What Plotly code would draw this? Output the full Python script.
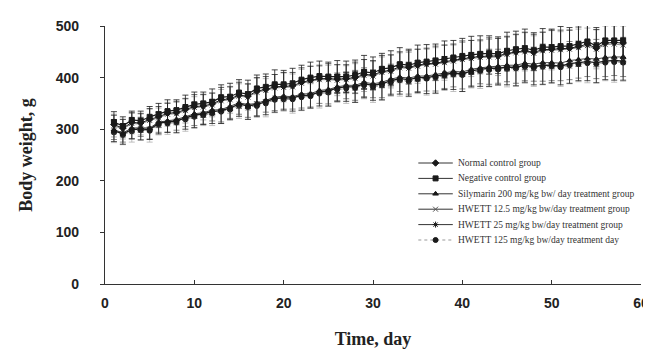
import plotly.graph_objects as go

days = list(range(1, 59))

normal_control = [309,302,313,312,319,324,331,332,338,344,345,349,357,359,366,364,374,377,382,383,384,391,395,398,398,397,398,400,406,405,412,414,421,420,424,427,428,431,434,437,439,441,442,442,447,450,452,449,454,455,456,457,460,465,457,467,468,467]
negative_control = [314,306,318,316,324,329,335,337,343,348,350,353,362,363,371,368,379,382,387,387,389,396,400,403,402,402,402,405,411,409,417,419,426,424,429,431,433,436,439,442,444,446,447,446,452,455,457,453,459,459,461,461,465,470,461,472,472,472]
silymarin = [299,293,302,303,302,314,316,319,324,330,332,337,338,344,351,348,350,356,362,364,363,368,369,375,377,382,385,385,391,388,391,397,401,399,403,403,406,410,412,411,416,419,421,422,424,424,428,426,429,429,428,433,435,437,436,439,440,440]
hwett_12_5 = [307,300,311,310,317,322,329,330,336,342,343,347,355,357,364,362,372,375,380,381,382,389,393,396,396,395,396,398,404,403,410,412,419,418,422,425,426,429,432,435,437,439,440,440,445,448,450,447,452,453,454,455,458,462,455,464,465,463]
hwett_25 = [297,291,299,301,299,312,314,316,322,327,330,334,336,341,349,345,348,353,360,361,361,365,366,372,374,380,382,382,388,385,388,394,398,396,400,400,403,407,409,407,413,416,418,418,420,420,424,421,424,424,422,427,429,431,429,432,433,432]
hwett_125 = [294,289,296,298,297,309,311,313,319,324,327,331,334,338,346,343,345,350,357,358,358,362,364,369,371,377,379,380,385,382,385,391,395,393,397,398,400,404,406,405,410,413,415,416,417,418,421,419,421,422,420,424,426,428,427,429,430,429]

sd_normal = [18,17,19,18,21,20,19,22,21,23,22,21,24,23,25,24,26,25,24,27,26,28,27,26,29,28,27,30,29,28,31,30,29,32,31,30,33,32,31,34,33,32,35,34,33,34,36,35,34,37,36,35,38,37,36,35,37,36]
sd_negative = [20,18,17,19,20,21,22,20,23,24,22,25,24,26,25,27,26,25,28,27,29,28,30,29,28,31,30,29,32,31,30,33,32,31,34,33,32,35,33,34,36,35,34,33,36,35,37,34,36,35,38,36,37,38,36,37,36,35]
sd_silymarin = [19,18,20,17,21,20,22,21,19,23,22,21,24,23,22,25,24,23,26,25,24,27,26,25,28,27,26,29,28,27,30,29,28,31,30,29,32,31,30,33,32,31,34,33,32,35,34,33,36,35,34,37,36,35,38,37,36,38]
sd_h12_5 = [22,19,20,21,22,19,23,22,24,21,25,23,22,26,24,25,27,23,26,28,25,27,29,26,28,30,27,29,31,28,30,32,29,31,33,30,32,34,31,33,35,32,34,36,33,35,37,34,36,38,35,37,36,34,38,36,35,37]
sd_h25 = [21,20,18,22,19,21,20,23,22,24,21,23,25,22,24,26,23,25,27,24,26,28,25,27,29,26,28,30,27,29,31,28,30,32,29,31,33,30,32,34,31,33,35,32,34,36,33,35,37,34,36,38,35,37,39,36,38,37]
sd_h125 = [20,19,21,18,22,20,21,19,23,22,20,24,23,21,25,24,22,26,25,23,27,26,24,28,27,25,29,28,26,30,29,27,31,30,28,32,31,29,33,32,30,34,33,31,35,34,32,36,35,33,37,36,34,38,37,35,39,36]

x_ticks = [0, 10, 20, 30, 40, 50, 60]
y_ticks = [0, 100, 200, 300, 400, 500]

series_names = [
    "Normal control group",
    "Negative control group",
    "Silymarin 200 mg/kg bw/ day treatment group",
    "HWETT 12.5 mg/kg bw/day treatment group",
    "HWETT 25 mg/kg bw/day treatment group",
    "HWETT 125 mg/kg bw/day treatment day",
]
series_values = [normal_control, negative_control, silymarin, hwett_12_5, hwett_25, hwett_125]
series_sd = [sd_normal, sd_negative, sd_silymarin, sd_h12_5, sd_h25, sd_h125]
for v, s in zip(series_values, series_sd):
    assert len(v) == 58 and len(s) == 58

styles = [
    dict(symbol="diamond", size=5, color="#1a1a1a", line=dict(color="#1a1a1a", width=1, dash="solid"), err="#333333"),
    dict(symbol="square", size=5, color="#1a1a1a", line=dict(color="#1a1a1a", width=1.2, dash="solid"), err="#1a1a1a"),
    dict(symbol="triangle-up", size=5, color="#1a1a1a", line=dict(color="#444444", width=1, dash="solid"), err="#666666"),
    dict(symbol="x-thin", size=5, color="#555555", line=dict(color="#888888", width=1, dash="solid"), err="#a0a0a0"),
    dict(symbol="asterisk-open", size=5, color="#1a1a1a", line=dict(color="#1a1a1a", width=1.4, dash="solid"), err="#222222"),
    dict(symbol="circle", size=5, color="#1a1a1a", line=dict(color="#999999", width=1, dash="dot"), err="#b0b0b0"),
]

X_RANGE = [0, 60]
Y_RANGE = [0, 500]
# plot-area pixel frame
PX_L, PX_R, PX_T, PX_B = 97, 641, 18, 276


def px_to_x(px):
    return X_RANGE[0] + (px - PX_L) / (PX_R - PX_L) * (X_RANGE[1] - X_RANGE[0])


def py_to_y(py):
    return Y_RANGE[0] + (PX_B - py) / (PX_B - PX_T) * (Y_RANGE[1] - Y_RANGE[0])


fig = go.Figure()
order = [3, 5, 2, 0, 4, 1]
for i in order:
    st = styles[i]
    fig.add_trace(go.Scatter(
        x=days, y=series_values[i], name=series_names[i],
        mode="lines+markers", showlegend=False,
        line=st["line"],
        marker=dict(symbol=st["symbol"], size=st["size"], color=st["color"],
                    line=dict(color=st["color"], width=1)),
        error_y=dict(type="data", array=series_sd[i], visible=True,
                     color=st["err"], thickness=0.8, width=3),
    ))

# legend (hand-built, for the tight row spacing of the original)
leg_x0, leg_x1, leg_text_x = 415, 450, 453
leg_y0, leg_dy = 155, 15.4
annotations = []
for i, name in enumerate(series_names):
    st = styles[i]
    yy = py_to_y(leg_y0 + i * leg_dy)
    xa, xm, xb = px_to_x(leg_x0), px_to_x((leg_x0 + leg_x1) / 2), px_to_x(leg_x1)
    fig.add_trace(go.Scatter(
        x=[xa, xb], y=[yy, yy], mode="lines", showlegend=False, hoverinfo="skip",
        line=dict(color="#333333" if st["line"]["dash"] == "solid" else "#999999",
                  width=1, dash=st["line"]["dash"]),
    ))
    fig.add_trace(go.Scatter(
        x=[xm], y=[yy], mode="markers", showlegend=False, hoverinfo="skip",
        marker=dict(symbol=st["symbol"], size=5, color=st["color"],
                    line=dict(color=st["color"], width=1)),
    ))
    annotations.append(dict(
        x=px_to_x(leg_text_x), y=yy, xref="x", yref="y", text=name, showarrow=False,
        xanchor="left", yanchor="middle",
        font=dict(family="Liberation Serif", size=9.5, color="#333333"),
    ))

fig.update_layout(
    width=651, height=351,
    margin=dict(l=PX_L, r=651 - PX_R, t=PX_T, b=351 - PX_B),
    paper_bgcolor="white", plot_bgcolor="white",
    showlegend=False,
    annotations=annotations,
    font=dict(family="Liberation Sans", color="#222222"),
    xaxis=dict(
        range=X_RANGE, tickvals=x_ticks,
        showgrid=False, zeroline=False,
        showline=True, linecolor="#333333", linewidth=1.2,
        ticks="inside", ticklen=4, tickcolor="#333333",
        tickfont=dict(family="Liberation Sans", size=14, color="#222222", weight="bold"),
        ticklabelstandoff=6,
        title=dict(text="<b>Time, day</b>", font=dict(family="Liberation Serif", size=18, color="#222222"), standoff=22),
    ),
    yaxis=dict(
        range=Y_RANGE, tickvals=y_ticks,
        showgrid=False, zeroline=False,
        showline=True, linecolor="#333333", linewidth=1.2,
        ticks="outside", ticklen=4, tickcolor="#333333",
        tickfont=dict(family="Liberation Sans", size=14, color="#222222", weight="bold"),
        ticklabelstandoff=18,
        title=dict(text="<b>Body weight, g</b>", font=dict(family="Liberation Serif", size=18, color="#222222"), standoff=18),
    ),
)

fig.write_html("out.html")
